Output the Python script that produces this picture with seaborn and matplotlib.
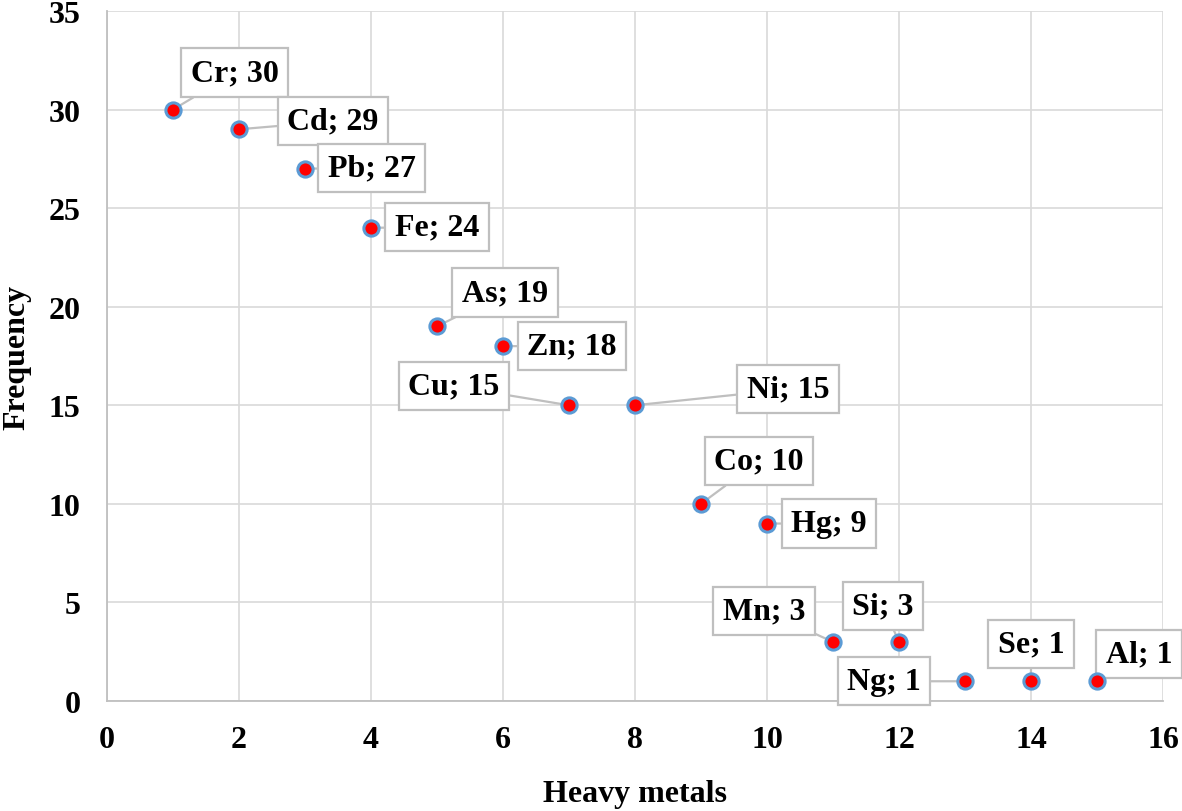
import matplotlib
matplotlib.use("Agg")
import matplotlib.pyplot as plt
import seaborn as sns
import pandas as pd

# data
metals = ["Cr", "Cd", "Pb", "Fe", "As", "Zn", "Cu", "Ni",
          "Co", "Hg", "Mn", "Si", "Ng", "Se", "Al"]
rank = [1, 2, 3, 4, 5, 6, 7, 8, 9, 10, 11, 12, 13, 14, 15]
frequency = [30, 29, 27, 24, 19, 18, 15, 15, 10, 9, 3, 3, 1, 1, 1]

# label box offsets from each point, in pixels (dx, dy)
label_offsets = [(62, 37), (94, 8), (67, 1), (66, 1), (68, 34), (69, 0),
                 (-115, 19), (153, 16), (58, 43), (62, 0), (-69, 31),
                 (-16, 36), (-81, 0), (0, 37), (42, 27)]

df = pd.DataFrame({"Metal": metals, "Rank": rank, "Frequency": frequency})

sns.set_theme(style="whitegrid")
plt.rcParams["font.family"] = ["Liberation Serif", "DejaVu Serif"]
plt.rcParams["font.weight"] = "bold"

fig = plt.figure(figsize=(11.82, 8.12), dpi=100)
ax = fig.add_axes([0.0905, 0.1355, 0.8934, 0.8497])

# leader lines + labels first, markers on top
for name, x, y, (dx, dy) in zip(df["Metal"], df["Rank"], df["Frequency"], label_offsets):
    ax.annotate(f"{name}; {y}", xy=(x, y), xytext=(dx, dy),
                textcoords="offset pixels", ha="center", va="center",
                fontsize=23, fontweight="bold", color="black",
                bbox=dict(boxstyle="square,pad=0.3", fc="white", ec="#BFBFBF", lw=1.6),
                arrowprops=dict(arrowstyle="-", color="#BFBFBF", lw=1.6,
                                shrinkA=0, shrinkB=0),
                annotation_clip=False, zorder=3)

sns.scatterplot(data=df, x="Rank", y="Frequency", ax=ax, s=120,
                color="#FF0000", edgecolor="#5B9BD5", linewidth=2.2, zorder=5,
                clip_on=False)

ax.set_xlim(0, 16)
ax.set_ylim(0, 35)
ax.set_xticks(range(0, 17, 2))
ax.set_yticks(range(0, 36, 5))
ax.grid(True, color="#D9D9D9", lw=1.2)
ax.set_axisbelow(True)
for side in ["top", "right"]:
    ax.spines[side].set_visible(False)
for side in ["left", "bottom"]:
    ax.spines[side].set_color("#BFBFBF")
    ax.spines[side].set_linewidth(1.3)

ax.tick_params(axis="both", length=0, labelsize=23, colors="black")
ax.tick_params(axis="y", pad=19)
ax.tick_params(axis="x", pad=17)
for lab in ax.get_xticklabels() + ax.get_yticklabels():
    lab.set_fontweight("bold")

ax.set_xlabel("Heavy metals", fontsize=23, fontweight="bold", labelpad=18, color="black")
ax.set_ylabel("Frequency", fontsize=23, fontweight="bold", labelpad=12, color="black")

fig.savefig("out.png", dpi=100)
